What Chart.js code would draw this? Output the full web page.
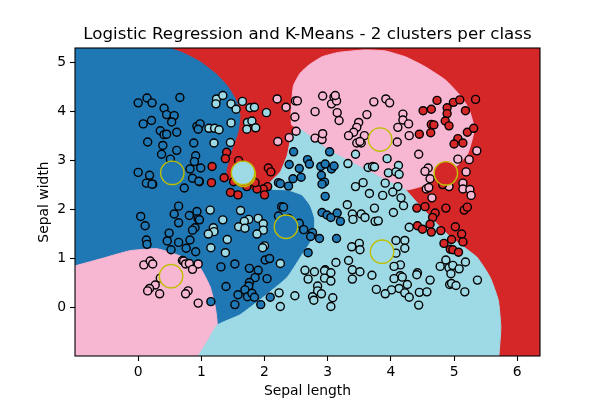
<!DOCTYPE html>
<html>
<head>
  <meta charset="utf-8">
  <title>Logistic Regression and K-Means</title>
  <script src="https://cdn.jsdelivr.net/npm/chart.js"></script>
  <style>
    body { margin: 0; padding: 0; background: #fff; }
    canvas { display: block; }
  </style>
</head>
<body>
  <canvas id="chart" width="600" height="400"></canvas>
  <script>
    const titleText = 'Logistic Regression and K-Means - 2 clusters per class';
    const xLabel = 'Sepal length';
    const yLabel = 'Sepal width';
    const xTicks = [0, 1, 2, 3, 4, 5, 6];
    const yTicks = [0, 1, 2, 3, 4, 5];
    const xRange = [-1.0, 6.36];
    const yRange = [-0.99, 5.3];

    // Decision regions, outlines
    const regionRed = [[-1, -0.99], [6.36, -0.99], [6.36, 5.3], [-1, 5.3]];
    const regionDarkBlue = [[-1, 5.3], [0.47, 5.3], [0.71, 5.20], [0.98, 5.02], [1.25, 4.75], [1.42, 4.51], [1.56, 4.20], [1.61, 3.93], [1.58, 3.59], [1.46, 3.15], [1.39, 2.77], [1.42, 2.60], [1.69, 2.41], [2.01, 2.43], [2.37, 2.40], [2.59, 2.30], [2.72, 2.09], [2.79, 1.83], [2.79, 1.58], [2.72, 1.32], [2.61, 1.11], [2.36, 0.62], [1.98, 0.21], [1.61, -0.15], [1.25, -0.36], [1.22, 0.01], [1.14, 0.42], [0.98, 0.81], [0.71, 1.03], [0.30, 1.20], [-0.13, 1.16], [-0.55, 1.01], [-1, 0.85]];
    const regionPinkLow = [[-1, -0.99], [0.95, -0.99], [1.11, -0.66], [1.25, -0.36], [1.22, 0.01], [1.14, 0.42], [0.98, 0.81], [0.71, 1.03], [0.30, 1.20], [-0.13, 1.16], [-0.55, 1.01], [-1, 0.85]];
    const regionPinkHigh = [[2.53, 3.67], [2.43, 3.73], [2.42, 4.00], [2.44, 4.34], [2.46, 4.54], [2.56, 4.78], [2.70, 4.95], [2.91, 5.12], [3.17, 5.21], [3.59, 5.26], [3.91, 5.24], [4.23, 5.12], [4.54, 4.92], [4.86, 4.65], [5.07, 4.37], [5.23, 4.07], [5.31, 3.73], [5.31, 3.56], [5.22, 3.15], [5.06, 2.91], [4.86, 2.74], [4.70, 2.64], [4.54, 2.50], [4.23, 2.40], [3.83, 2.66], [3.31, 3.01], [3.01, 3.22]];
    const regionLightBlue = [[0.95, -0.99], [1.11, -0.66], [1.25, -0.36], [1.61, -0.15], [1.98, 0.21], [2.36, 0.62], [2.61, 1.11], [2.72, 1.32], [2.79, 1.58], [2.79, 1.83], [2.72, 2.09], [2.59, 2.30], [2.37, 2.40], [2.01, 2.43], [2.12, 2.60], [2.25, 2.77], [2.36, 3.11], [2.41, 3.42], [2.48, 3.60], [2.53, 3.67], [3.01, 3.22], [3.31, 3.01], [3.83, 2.66], [4.23, 2.40], [4.41, 2.15], [4.67, 1.79], [4.94, 1.44], [5.36, 1.03], [5.57, 0.62], [5.70, 0.15], [5.74, -0.40], [5.71, -0.99]];

    // Samples per class
    const darkBluePoints = [[0.00, 4.18], [0.14, 4.28], [0.22, 4.18], [0.66, 4.29], [0.41, 4.07], [0.45, 3.94], [0.57, 3.92], [0.53, 3.79], [0.08, 3.75], [0.21, 3.82], [0.35, 3.61], [0.41, 3.53], [0.45, 3.54], [0.61, 3.58], [0.15, 3.38], [0.39, 3.31], [0.61, 3.21], [0.37, 3.13], [0.88, 3.36], [0.93, 3.70], [0.98, 3.75], [0.95, 3.64], [0.91, 3.10], [0.51, 3.03], [0.89, 2.98], [0.82, 2.83], [0.99, 2.85], [0.00, 2.76], [0.18, 2.70], [0.13, 2.54], [0.23, 2.52], [0.22, 2.52], [0.73, 2.44], [0.86, 2.64], [0.97, 2.57], [0.96, 2.58],
      [2.46, 3.18], [3.03, 3.18], [2.39, 2.92], [2.68, 3.02], [2.71, 2.93], [2.55, 2.84], [2.89, 2.88], [2.96, 2.93], [3.06, 2.83], [3.10, 2.89], [2.90, 2.70], [2.45, 2.63], [2.58, 2.66], [2.95, 2.56], [2.91, 2.52], [2.22, 2.55], [2.25, 2.53], [2.38, 2.48], [2.96, 2.27],
      [0.64, 2.07], [0.57, 1.91], [0.81, 1.88], [0.93, 1.96], [0.95, 1.81], [0.97, 1.79], [0.04, 1.86], [0.11, 1.67], [0.64, 1.73], [0.90, 1.63], [0.86, 1.58], [0.49, 1.52], [0.46, 1.36], [0.64, 1.33], [0.82, 1.38], [0.13, 1.38], [0.14, 1.29], [0.52, 1.18], [0.76, 1.21], [0.91, 1.14], [1.31, 0.83], [1.39, 0.43], [1.15, 0.12],
      [1.53, 0.89], [1.76, 0.80], [1.90, 0.76], [1.85, 0.61], [2.04, 0.59], [1.76, 0.51], [1.75, 0.44], [1.69, 0.36], [1.58, 0.26], [1.73, 0.22], [1.80, 0.29], [1.84, 0.21], [1.53, 0.06], [1.94, 0.06], [2.01, 0.97], [2.08, 1.00], [2.22, 1.87], [2.27, 2.06], [2.30, 2.05], [2.38, 1.82], [2.55, 1.72], [2.62, 1.59], [2.76, 1.53], [2.73, 1.45], [2.87, 1.41], [2.69, 1.12], [3.14, 1.41], [2.91, 1.94], [2.99, 1.89], [3.05, 1.84], [3.15, 1.93], [3.20, 1.76], [2.09, 0.21]];
    const lightBluePoints = [[1.24, 4.26], [1.23, 4.16], [1.12, 3.66], [1.21, 3.66], [1.28, 3.63], [1.20, 3.36], [1.34, 4.33], [1.47, 4.16], [1.55, 4.05], [1.65, 4.21], [1.77, 4.08], [1.84, 4.09], [2.03, 3.98], [1.47, 3.77], [1.73, 3.78], [1.80, 3.81], [1.72, 3.64], [1.86, 3.67], [1.46, 3.37],
      [3.44, 3.13], [3.32, 2.94], [3.64, 2.86], [3.71, 2.88], [3.74, 2.87], [3.44, 2.47], [3.56, 2.55], [3.66, 2.33], [3.94, 3.04], [4.12, 2.90], [3.96, 2.75], [4.08, 2.77], [4.13, 2.72], [3.91, 2.54], [4.11, 2.47], [4.03, 2.36], [4.16, 2.24], [3.87, 2.29],
      [1.14, 1.99], [1.34, 1.79], [1.19, 1.63], [1.20, 1.55], [1.11, 1.50], [1.41, 1.39], [1.15, 1.22], [1.38, 1.12], [1.62, 1.98], [1.75, 1.80], [1.68, 1.76], [1.59, 1.65], [1.69, 1.62], [1.90, 1.82], [1.98, 1.71], [1.98, 1.58], [1.88, 1.50], [2.00, 1.26], [1.97, 1.22], [2.25, 0.90],
      [3.31, 2.10], [3.39, 1.91], [3.53, 1.91], [3.40, 1.80], [3.59, 1.84], [3.74, 2.03], [3.75, 1.76], [3.80, 1.77], [3.50, 1.31], [3.38, 1.24], [3.51, 1.18], [3.13, 0.92], [3.33, 0.96], [3.39, 0.77], [3.51, 0.73], [3.70, 0.66], [3.39, 0.58], [3.77, 0.37], [2.64, 0.76], [2.79, 0.73], [2.69, 0.58], [2.96, 0.77], [2.95, 0.75], [3.05, 0.71], [2.95, 0.60], [3.05, 0.54], [2.84, 0.44], [2.84, 0.34], [2.90, 0.28], [2.76, 0.22], [2.78, 0.15], [3.08, 0.20], [3.05, 0.02], [2.23, 0.30], [2.48, 0.24], [2.25, 0.02],
      [4.04, 1.94], [4.20, 2.08], [4.29, 1.64], [4.08, 1.37], [4.22, 1.37], [4.22, 1.21], [4.08, 1.11], [4.15, 0.87], [4.05, 0.84], [4.42, 0.71], [4.41, 0.67], [4.15, 0.65], [4.05, 0.59], [4.18, 0.62], [4.26, 0.47], [4.13, 0.39], [4.01, 0.36], [3.91, 0.28], [4.22, 0.30], [4.29, 0.21], [4.45, 0.31], [4.57, 0.32], [4.44, 0.05], [4.62, 0.56], [4.87, 0.97], [4.78, 0.84], [4.92, 0.81], [4.98, 0.86], [5.08, 0.79], [5.18, 0.93], [4.95, 0.69], [4.93, 0.47], [4.96, 0.49], [5.03, 0.45], [5.17, 0.32], [5.37, 0.56]];
    const pinkPoints = [[2.20, 4.26], [2.34, 4.09], [2.49, 4.22], [2.52, 4.22], [2.48, 3.89], [2.50, 3.60], [2.21, 3.39], [2.39, 3.47], [2.80, 4.00], [2.92, 4.32], [3.06, 4.16], [3.10, 4.30], [3.14, 4.22], [3.12, 4.33], [3.15, 3.98], [3.18, 3.82], [3.73, 4.20], [3.62, 3.94], [3.49, 3.78], [3.46, 3.68], [3.41, 3.58], [3.33, 3.51], [3.58, 3.51], [3.46, 3.36], [3.53, 3.36], [3.51, 3.39], [2.80, 3.46], [2.91, 3.43], [2.92, 3.55],
      [3.92, 4.26], [3.98, 4.18], [4.19, 3.95], [4.19, 3.83], [4.28, 3.75], [4.11, 3.68], [4.29, 3.51], [4.10, 3.38], [4.44, 3.13], [5.06, 3.03], [5.24, 3.02], [5.36, 3.20], [5.19, 2.77], [4.59, 2.85], [4.54, 2.78], [4.62, 2.63], [4.56, 2.42], [4.60, 2.45], [4.92, 2.47], [5.14, 2.54], [5.14, 2.42], [5.25, 2.41], [5.27, 2.29], [4.65, 2.24],
      [0.09, 0.87], [0.19, 0.95], [0.23, 0.89], [0.70, 0.96], [0.72, 0.95], [0.75, 0.89], [0.81, 0.90], [0.95, 0.89], [0.86, 0.78], [0.35, 0.60], [0.27, 0.46], [0.18, 0.39], [0.15, 0.34], [0.34, 0.28], [0.79, 0.34], [0.75, 0.28], [0.95, 0.09]];
    const redPoints = [[1.17, 2.88], [1.16, 2.55], [1.40, 3.17], [1.38, 3.04], [1.59, 3.00], [1.36, 2.65], [2.06, 2.85], [2.10, 2.77], [1.51, 2.57], [2.05, 2.47], [1.98, 2.42], [1.88, 2.42], [1.46, 2.35], [1.58, 2.30], [2.00, 2.30], [1.85, 2.55], [1.72, 2.47],
      [4.73, 4.23], [4.51, 4.02], [4.64, 4.05], [4.99, 4.19], [5.09, 4.24], [5.34, 4.25], [4.89, 4.08], [4.89, 3.96], [5.18, 4.02], [4.86, 3.81], [4.92, 3.71], [4.64, 3.74], [4.68, 3.73], [4.63, 3.57], [4.45, 3.54], [5.21, 3.58], [5.31, 3.66], [5.06, 3.45], [5.14, 3.36], [5.00, 3.34], [4.82, 2.51],
      [4.41, 2.03], [4.54, 2.06], [4.70, 1.93], [4.66, 1.84], [4.87, 2.03], [5.16, 1.99], [5.21, 2.05], [4.62, 1.70], [4.42, 1.67], [4.50, 1.60], [4.64, 1.54], [4.79, 1.57], [5.02, 1.65], [5.12, 1.50], [5.14, 1.34], [4.84, 1.31], [4.96, 1.39], [4.94, 1.19], [4.98, 1.18], [5.07, 1.13]];

    // K-Means centres
    const darkBlueCentres = [[0.54, 2.75], [2.34, 1.65]];
    const pinkCentres = [[0.52, 0.64], [3.83, 3.43]];
    const redCentres = [[4.87, 2.74], [1.67, 2.71]];
    const lightBlueCentres = [[3.86, 1.14], [1.66, 2.75]];

    const toXY = pairs => pairs.map(p => ({ x: p[0], y: p[1] }));

    function region(data, color, order) {
      return {
        data: toXY(data), showLine: true, fill: 'shape', tension: 0.15,
        backgroundColor: color, borderColor: color, borderWidth: 1,
        pointRadius: 0, order: order
      };
    }
    function samples(data, color, order) {
      return {
        data: toXY(data), showLine: false, backgroundColor: color,
        borderColor: '#000', borderWidth: 1.4, pointRadius: 4, order: order
      };
    }
    function centres(data, color, order) {
      return {
        data: toXY(data), showLine: false, backgroundColor: color,
        borderColor: '#bfbf00', borderWidth: 1.4, pointRadius: 11.7, order: order
      };
    }

    const frame = {
      id: 'frame',
      afterDatasetsDraw(chart) {
        const a = chart.chartArea, ctx = chart.ctx;
        ctx.save();
        ctx.strokeStyle = '#000';
        ctx.lineWidth = 1.1;
        ctx.strokeRect(a.left, a.top, a.width, a.height);
        ctx.restore();
      }
    };

    const font = { family: '"DejaVu Sans"', size: 13.9 };

    new Chart(document.getElementById('chart').getContext('2d'), {
      type: 'scatter',
      data: {
        datasets: [
          region(regionRed, '#d62728', 20),
          region(regionDarkBlue, '#1f77b4', 19),
          region(regionPinkLow, '#f7b6d2', 18),
          region(regionPinkHigh, '#f7b6d2', 17),
          region(regionLightBlue, '#9edae5', 16),
          samples(darkBluePoints, '#1f77b4', 15),
          samples(lightBluePoints, '#9edae5', 14),
          samples(pinkPoints, '#f7b6d2', 13),
          samples(redPoints, '#d62728', 12),
          centres(darkBlueCentres, '#1f77b4', 4),
          centres(pinkCentres, '#f7b6d2', 3),
          centres(redCentres, '#d62728', 2),
          centres(lightBlueCentres, '#9edae5', 1)
        ]
      },
      options: {
        responsive: false,
        animation: false,
        layout: { padding: { left: 15, right: 0, top: 0, bottom: 0 } },
        plugins: {
          legend: { display: false },
          tooltip: { enabled: false },
          title: {
            display: true, text: titleText, color: '#000',
            font: { family: '"DejaVu Sans"', size: 16.67, weight: 'normal', lineHeight: 1.2 },
            padding: { top: 25, bottom: 3 }
          }
        },
        scales: {
          x: {
            type: 'linear', min: xRange[0], max: xRange[1],
            afterFit: s => { s.height = 44; },
            afterBuildTicks: s => { s.ticks = xTicks.map(v => ({ value: v })); },
            grid: { drawOnChartArea: false, tickLength: 5, tickColor: '#000', tickWidth: 1.1 },
            border: { display: false },
            ticks: { color: '#000', font: font, padding: 3, maxRotation: 0 },
            title: { display: true, text: xLabel, color: '#000', font: font, padding: { top: 0, bottom: 0 } }
          },
          y: {
            type: 'linear', min: yRange[0], max: yRange[1],
            afterFit: s => { s.width = 60; },
            afterBuildTicks: s => { s.ticks = yTicks.map(v => ({ value: v })); },
            grid: { drawOnChartArea: false, tickLength: 5, tickColor: '#000', tickWidth: 1.1 },
            border: { display: false },
            ticks: { color: '#000', font: font, padding: 4 },
            title: { display: true, text: yLabel, color: '#000', font: font, padding: { top: 21, bottom: 0 } }
          },
          // empty axis, only keeps the right margin of the figure
          yMargin: {
            type: 'linear', position: 'right',
            afterFit: s => { s.width = 60; },
            grid: { display: false },
            border: { display: false },
            ticks: { display: false }
          }
        }
      },
      plugins: [frame]
    });
  </script>
</body>
</html>
